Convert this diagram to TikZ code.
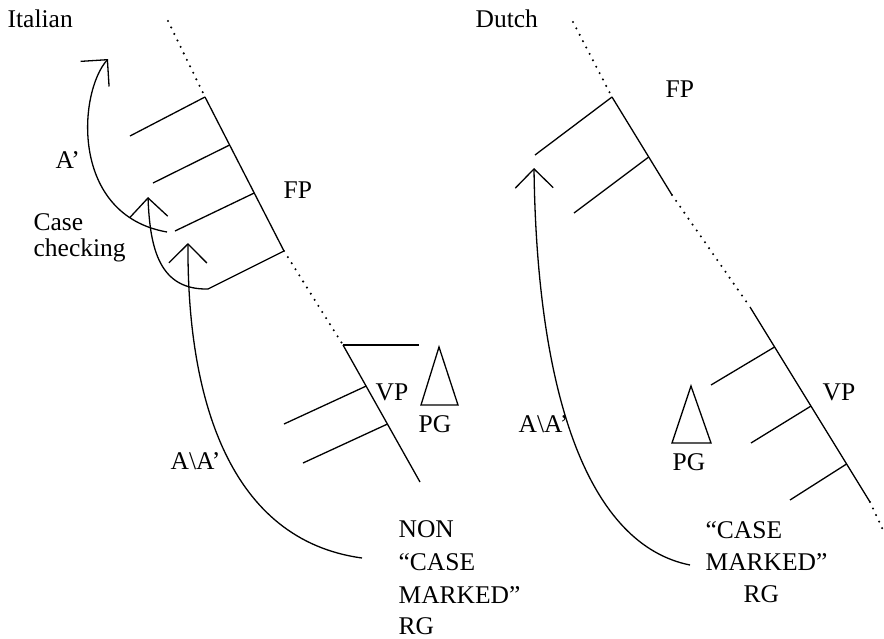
\documentclass[tikz,border=0pt]{standalone}
\usepackage{fontspec}
\setmainfont{Liberation Serif}
\usetikzlibrary{arrows.meta,calc}
\begin{document}
\begin{tikzpicture}[x=1pt,y=-1pt,
  line width=1.3pt,
  lbl/.style={inner sep=0pt,anchor=base west,font=\fontsize{25.5}{33}\selectfont},
  dots/.style={line width=2.3pt,line cap=round,dash pattern=on 0pt off 7.2pt},
  move/.style={-{Straight Barb[length=19pt,width=38pt]}},
  pg/.style={line join=miter}]
\useasboundingbox (0,0) rectangle (884,638);

% ---------------- Italian tree ----------------
\coordinate (iS0) at (168,21);
\coordinate (iS1) at (205,97);
\coordinate (iS4) at (284,251);
\coordinate (iS5) at (343,345);
\coordinate (iS6) at (420,482);
\coordinate (iS2) at ($(iS1)!0.3117!(iS4)$);
\coordinate (iS3) at ($(iS1)!0.6234!(iS4)$);
\coordinate (iS7) at ($(iS5)!0.30!(iS6)$);
\coordinate (iS8) at ($(iS5)!0.577!(iS6)$);
\coordinate (iB1) at (130,136);
\coordinate (iB2) at (153,183);
\coordinate (iB3) at (175,231);
\coordinate (iB4) at (208,289);
\coordinate (iB7) at (284,424);
\coordinate (iB8) at (303,463);
\coordinate (iH) at (419,345);

\draw[dots] (iS0) -- (iS1);
\draw (iS1) -- (iS4);
\draw[dots] (iS4) -- (iS5);
\draw (iS5) -- (iS6);
\draw (iS1) -- (iB1);
\draw (iS2) -- (iB2);
\draw (iS3) -- (iB3);
\draw (iS4) -- (iB4);
\draw (iS7) -- (iB7);
\draw (iS8) -- (iB8);
\draw (iS5) -- (iH);
\draw[pg] (439,347) -- (421,405) -- (458,405) -- cycle;

% movement arrows
\coordinate (iA1) at (167,232);
\coordinate (iTipA) at (108,59);
\coordinate (iTipC) at (148,197);
\coordinate (iRG) at (362,558);
\coordinate (iTipR) at (188,243);
\draw[move] (iA1) .. controls (70,215) and (78,93) .. (iTipA);
\draw[move] (iB4) .. controls (160,290) and (150,250) .. (iTipC);
\draw[move] (iRG) .. controls (230,540) and (187,400) .. (iTipR);

% labels
\node[lbl] (italian) at (7,27) {Italian};
\node[lbl] (iAbar) at (55,168) {A’};
\node[lbl] (icase) at (33,230) {Case};
\node[lbl] (icheck) at (33,256) {checking};
\node[lbl] (iFP) at (283,198) {FP};
\node[lbl] (iVP) at (375,400) {VP};
\node[lbl] (iPG) at (418,432) {PG};
\node[lbl] (iAA) at (170,469) {A\textbackslash A’};
\node[lbl] (inon) at (398,537) {NON};
\node[lbl] (icasem) at (398,570) {“CASE};
\node[lbl] (imarked) at (398,603) {MARKED”};
\node[lbl] (iRGl) at (398,634) {RG};

% ---------------- Dutch tree ----------------
\coordinate (dS0) at (573,22);
\coordinate (dS1) at (612,97);
\coordinate (dS2) at (672,195);
\coordinate (dS3) at (750,307);
\coordinate (dS4) at (870,502);
\coordinate (dS5) at (883,530);
\coordinate (dS6) at ($(dS1)!0.612!(dS2)$);
\coordinate (dS7) at ($(dS3)!0.205!(dS4)$);
\coordinate (dS8) at ($(dS3)!0.508!(dS4)$);
\coordinate (dS9) at ($(dS3)!0.805!(dS4)$);
\coordinate (dB1) at (535,155);
\coordinate (dB6) at (574,213);
\coordinate (dB7) at (711,385);
\coordinate (dB8) at (751,443);
\coordinate (dB9) at (790,500);

\draw[dots] (dS0) -- (dS1);
\draw (dS1) -- (dS2);
\draw[dots] (dS2) -- (dS3);
\draw (dS3) -- (dS4);
\draw[dots] (dS4) -- (dS5);
\draw (dS1) -- (dB1);
\draw (dS6) -- (dB6);
\draw (dS7) -- (dB7);
\draw (dS8) -- (dB8);
\draw (dS9) -- (dB9);
\draw[pg] (691,386) -- (672,443) -- (711,443) -- cycle;

\coordinate (dRG) at (690,565);
\coordinate (dTip) at (534,168);
\draw[move] (dRG) .. controls (590,545) and (537,400) .. (dTip);

\node[lbl] (dutch) at (475,27) {Dutch};
\node[lbl] (dFP) at (665,97) {FP};
\node[lbl] (dVP) at (822,400) {VP};
\node[lbl] (dPG) at (672,470) {PG};
\node[lbl] (dAA) at (518,432) {A\textbackslash A’};
\node[lbl] (dcase) at (705,538) {“CASE};
\node[lbl] (dmarked) at (705,570) {MARKED”};
\node[lbl] (dRGl) at (743,602) {RG};
\end{tikzpicture}
\end{document}
